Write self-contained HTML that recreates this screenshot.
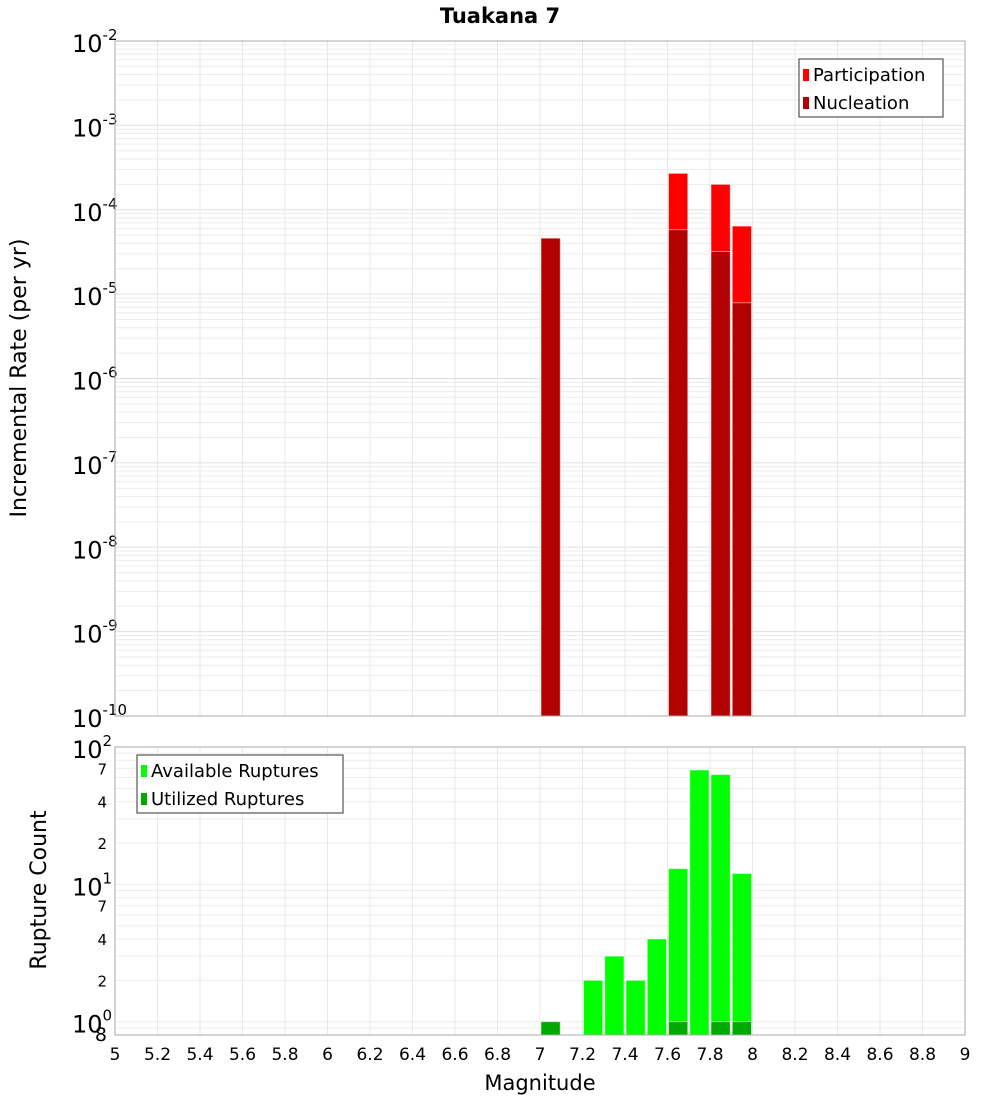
<!DOCTYPE html>
<html><head><meta charset="utf-8"><style>
body{margin:0;background:#fff;width:1000px;height:1100px;overflow:hidden}
svg text{font-family:"DejaVu Sans","Liberation Sans",sans-serif}
</style></head><body>
<svg id="c" width="1000" height="1100" xmlns="http://www.w3.org/2000/svg">
<text x="500" y="23" text-anchor="middle" font-size="21" font-weight="bold">Tuakana 7</text>
<text transform="translate(26,378) rotate(-90)" text-anchor="middle" font-size="22">Incremental Rate (per yr)</text>
<text transform="translate(46,890) rotate(-90)" text-anchor="middle" font-size="22">Rupture Count</text>
<text x="540" y="1090" text-anchor="middle" font-size="21">Magnitude</text>
<g id="topg"></g><g id="botg"></g>
</svg>
<script>
const mags=[7.0,7.6,7.8,7.9];
const participation=[4.6e-5,2.7e-4,2.0e-4,6.4e-5];
const nucleation=[4.6e-5,5.8e-5,3.2e-5,7.9e-6];
const cmags=[7.0,7.2,7.3,7.4,7.5,7.6,7.7,7.8,7.9];
const available=[1,2,3,2,4,13,68,63,12];
const umags=[7.0,7.6,7.8,7.9];
const utilized=[1,1,1,1];
const xTicks=[5,5.2,5.4,5.6,5.8,6,6.2,6.4,6.6,6.8,7,7.2,7.4,7.6,7.8,8,8.2,8.4,8.6,8.8,9];
const NS='http://www.w3.org/2000/svg';
const L=115,R=965;
const x=m=>L+(m-5)/4*(R-L);
function mk(p,t,a){const e=document.createElementNS(NS,t);for(const k in a)e.setAttribute(k,a[k]);p.appendChild(e);return e;}
function yT(v){return 41+(-2-Math.log10(v))/8*(716-41);}
const lb=Math.log10(0.8);
function yB(v){return 747+(2-Math.log10(v))/(2-lb)*(1035-747);}
const topG=document.getElementById('topg'),botG=document.getElementById('botg');
for(let d=-10;d<-2;d++)for(let k=1;k<10;k++){const y=yT(k*Math.pow(10,d));
 const g=mk(topG,'line',{x1:L,x2:R,y1:y,y2:y,stroke:k==1?'#e0e0e0':'#ececec','stroke-width':1});
 
 }
for(let d=-1;d<2;d++)for(let k=1;k<10;k++){const v=k*Math.pow(10,d);if(v<0.8)continue;const y=yB(v);
 const g=mk(botG,'line',{x1:L,x2:R,y1:y,y2:y,stroke:'#ececec','stroke-width':1});
 
 }
xTicks.forEach(t=>{[[41,716,topG],[747,1035,botG]].forEach(([a,b,p])=>{
 const g=mk(p,'line',{x1:x(t),x2:x(t),y1:a,y2:b,stroke:'#e8e8e8'});
 
 });
 const tx=mk(botG,'text',{x:x(t),y:1060,'text-anchor':'middle','font-size':17});tx.textContent=String(t);
 
 });
for(let d=-10;d<=-2;d++){const y=yT(Math.pow(10,d));
 const t=mk(topG,'text',{x:72,y:y+11,'font-size':24});t.innerHTML='10<tspan dy="-12" font-size="15">'+d+'</tspan>';
 
 }
[[100,'2'],[10,'1'],[1,'0']].forEach(([v,e])=>{const y=yB(v);
 const t=mk(botG,'text',{x:72,y:y+11,'font-size':24});t.innerHTML='10<tspan dy="-12" font-size="15">'+e+'</tspan>';
 
 });
[2,4,7,20,40,70,0.8].forEach(v=>{const y=yB(v);
 const t=mk(botG,'text',{x:107,y:y+6,'text-anchor':'end','font-size':v==0.8?19:15});t.textContent=String(v<1?8:(v>=10?v/10:v));
 
 });
const bw=(R-L)/40;
function bar(p,m,y,yb,c,n){const r=mk(p,'rect',{x:x(m)+1,y:y,width:bw-2,height:yb-y,fill:c,stroke:'rgba(255,255,255,0.5)','stroke-width':1});
 
 }
mags.forEach((m,i)=>bar(topG,m,yT(participation[i]),716,'#ff0000','participation-bar'));
mags.forEach((m,i)=>bar(topG,m,yT(nucleation[i]),716,'#b30000','nucleation-bar'));
cmags.forEach((m,i)=>bar(botG,m,yB(available[i]),1035,'#00ff00','available-bar'));
umags.forEach((m,i)=>bar(botG,m,yB(utilized[i]),1035,'#00aa00','utilized-bar'));
let f=mk(topG,'rect',{x:L,y:41,width:R-L,height:675,fill:'none',stroke:'#aaa'});

f=mk(botG,'rect',{x:L,y:747,width:R-L,height:288,fill:'none',stroke:'#aaa'});

function legend(p,x0,y0,w,items,n){const g=mk(p,'g',{});
 mk(g,'rect',{x:x0,y:y0,width:w,height:58,fill:'#fff',stroke:'#333'});
 items.forEach(([lab,c],i)=>{mk(g,'rect',{x:x0+4,y:y0+10+i*28,width:6,height:12,fill:c});
 const t=mk(g,'text',{x:x0+14,y:y0+22+i*28,'font-size':18});t.textContent=lab;});}
legend(topG,799,59,144,[['Participation','#ff0000'],['Nucleation','#b30000']],'top-legend');
legend(botG,137,755,206,[['Available Ruptures','#00ff00'],['Utilized Ruptures','#00aa00']],'bottom-legend');
</script>
</body></html>
